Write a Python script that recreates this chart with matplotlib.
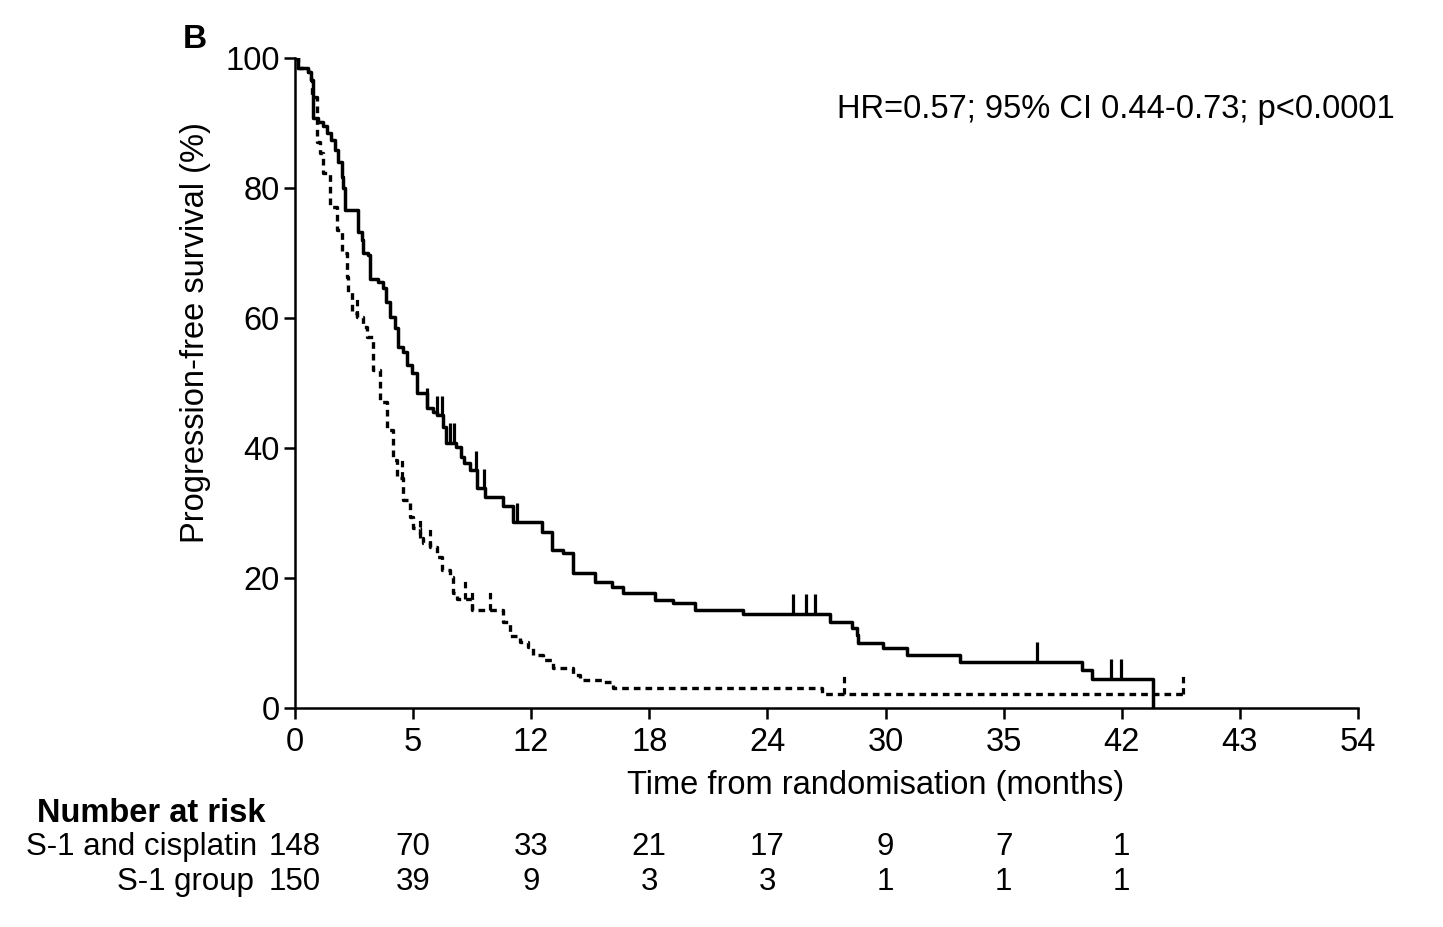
import matplotlib
matplotlib.use("Agg")
import matplotlib.pyplot as plt
import matplotlib.transforms as mtransforms
import numpy as np

plt.rcParams["font.family"] = ["Liberation Sans", "DejaVu Sans"]

# S-1 and cisplatin (solid): step times (months) and PFS (%)
cis_t = [0, 0.15, 0.66, 0.81, 0.91, 1.15, 1.4, 1.65, 1.85, 2.03,
         2.18, 2.39, 2.44, 2.54, 3.2, 3.4, 3.45, 3.7, 3.81, 4.2,
         4.45, 4.65, 4.83, 5.08, 5.23, 5.49, 5.69, 5.95, 6.2, 6.71,
         7.0, 7.22, 7.52, 7.67, 8.18, 8.45, 8.6, 8.89, 9.25, 9.65,
         10.57, 11.08, 12.55, 13.06, 13.62, 14.13, 15.24, 16.1, 16.67, 18.29,
         19.2, 20.33, 22.76, 27.18, 28.3, 28.56, 28.6, 29.88, 31.1, 33.79,
         39.99, 40.5, 43.6]
cis_s = [100, 98.5, 97.8, 96.6, 90.8, 90.2, 89.6, 88.5, 87.4, 85.8,
         84.0, 81.7, 80.0, 76.6, 73.2, 72.0, 70.0, 69.7, 66.0, 65.5,
         64.6, 62.5, 60.2, 58.5, 55.5, 54.8, 52.8, 51.5, 48.5, 46.2,
         45.5, 45.0, 43.2, 40.8, 40.2, 38.6, 37.7, 36.6, 33.8, 32.5,
         31.0, 28.6, 27.0, 24.3, 23.8, 20.8, 19.4, 18.6, 17.7, 16.6,
         16.1, 15.0, 14.5, 13.2, 12.3, 11.2, 10.0, 9.2, 8.2, 7.1,
         5.8, 4.5, 0]
cis_censor = [6.71, 7.22, 7.47, 7.88, 8.08, 9.2, 9.6, 11.28,
              25.3, 25.97, 26.42, 37.7, 41.46, 41.97]

# S-1 group (dashed)
s1_t = [0, 0.15, 0.66, 0.81, 0.86, 1.12, 1.27, 1.42, 1.78, 2.13,
        2.39, 2.64, 2.69, 2.9, 3.15, 3.46, 3.66, 3.96, 4.32, 4.67,
        4.98, 5.18, 5.49, 5.84, 6.0, 6.35, 6.5, 6.86, 7.22, 7.47,
        7.88, 8.03, 8.23, 8.99, 10.57, 10.92, 11.43, 11.84, 12.09, 12.6,
        13.11, 14.13, 14.48, 15.65, 16.16, 26.78, 45.1]
s1_s = [100, 98.5, 97.8, 96.6, 94.0, 87.0, 85.4, 82.3, 77.0, 73.5,
        70.0, 66.3, 64.0, 60.8, 60.2, 58.6, 57.0, 52.0, 47.0, 42.8,
        38.2, 35.4, 32.0, 29.4, 27.7, 26.2, 25.4, 24.8, 23.2, 21.2,
        20.2, 17.7, 16.8, 15.1, 13.2, 11.0, 10.2, 9.4, 8.2, 7.4,
        6.1, 5.1, 4.3, 4.0, 3.1, 2.2, 2.2]
s1_censor = [3.15, 5.44, 6.35, 6.86, 8.64, 8.99, 9.91, 27.9, 45.1]

tick_pos = [0, 6, 12, 18, 24, 30, 36, 42, 48, 54]
tick_labels = ["0", "5", "12", "18", "24", "30", "35", "42", "43", "54"]
risk_pos = [0, 6, 12, 18, 24, 30, 36, 42]
risk_cis = [148, 70, 33, 21, 17, 9, 7, 1]
risk_s1 = [150, 39, 9, 3, 3, 1, 1, 1]


def curve_at(t, s, x):
    idx = np.searchsorted(t, x, side="right") - 1
    return np.array(s)[idx]


fs = 23.5
fs_risk = 22.5
fig = plt.figure(figsize=(14.43, 9.27), dpi=100)
ax = fig.add_axes([0.2044, 0.2363, 0.7367, 0.7012])

dash = (0, (2.0, 1.5))
ax.step(cis_t, cis_s, where="post", color="black", lw=2.5)
ax.step(s1_t, s1_s, where="post", color="black", lw=2.4, linestyle=dash)

mark_h = 3.0
cy = curve_at(cis_t, cis_s, cis_censor)
ax.vlines(cis_censor, cy, cy + mark_h, color="black", lw=2.3)
sy = curve_at(s1_t, s1_s, s1_censor)
ax.vlines(s1_censor, sy, sy + mark_h, color="black", lw=2.3, linestyle=dash)

ax.set_xlim(0, 54)
ax.set_ylim(0, 100)
ax.set_xticks(tick_pos)
ax.set_xticklabels(tick_labels)
ax.set_yticks([0, 20, 40, 60, 80, 100])
ax.spines["top"].set_visible(False)
ax.spines["right"].set_visible(False)
for sp in ["left", "bottom"]:
    ax.spines[sp].set_linewidth(1.8)
ax.tick_params(axis="both", labelsize=fs, length=8, width=1.8, direction="out")
ax.tick_params(axis="x", pad=6)
ax.tick_params(axis="y", pad=3)

ax.set_xlabel("Time from randomisation (months)", fontsize=fs, va="center")
ax.xaxis.set_label_coords(0.546, -0.12)
ax.set_ylabel("Progression-free survival (%)", fontsize=fs, va="center")
ax.yaxis.set_label_coords(-0.094, 0.577)

ax.text(1.035, 0.92, "HR=0.57; 95% CI 0.44-0.73; p<0.0001", transform=ax.transAxes,
        ha="right", va="center", fontsize=fs)

fig.text(195 / 1443, 1 - 40 / 927, "B", fontsize=24, fontweight="bold", ha="center", va="center")

trans = mtransforms.blended_transform_factory(ax.transData, fig.transFigure)
fig.text(37 / 1443, 1 - 813 / 927, "Number at risk", fontsize=fs, fontweight="bold",
         ha="left", va="center")
fig.text(257 / 1443, 1 - 847 / 927, "S-1 and cisplatin", fontsize=fs_risk, ha="right", va="center")
fig.text(254 / 1443, 1 - 882 / 927, "S-1 group", fontsize=fs_risk, ha="right", va="center")
for x, a, b in zip(risk_pos, risk_cis, risk_s1):
    ax.text(x, 1 - 847 / 927, str(a), transform=trans, fontsize=fs_risk, ha="center", va="center")
    ax.text(x, 1 - 882 / 927, str(b), transform=trans, fontsize=fs_risk, ha="center", va="center")

fig.savefig("out.png", dpi=100, facecolor="white")
